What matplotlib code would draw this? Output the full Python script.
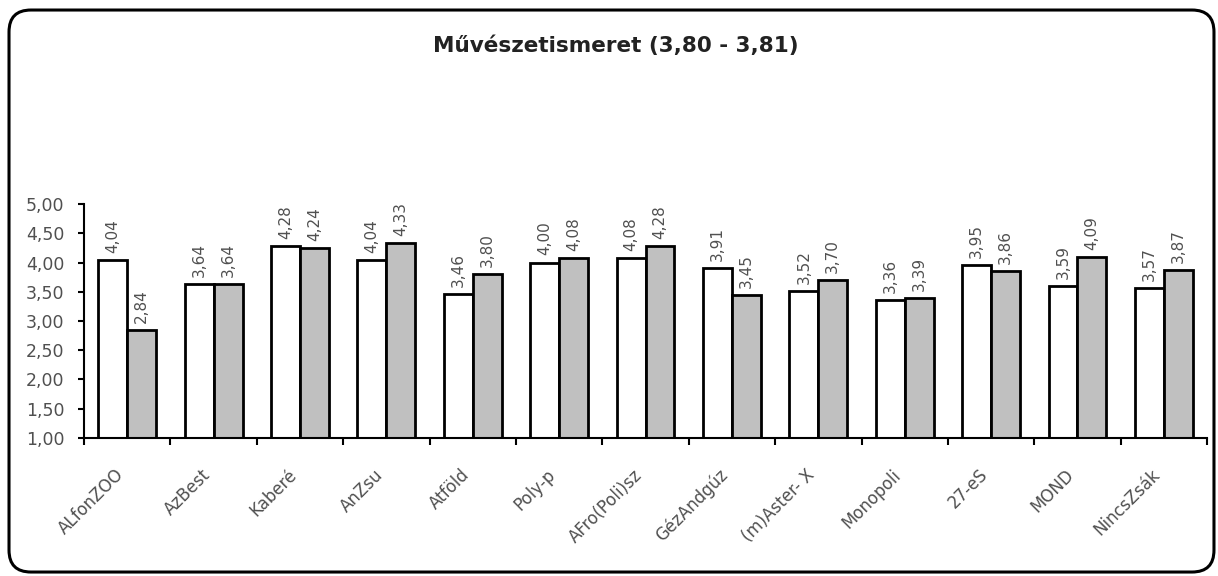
import numpy as np
import matplotlib.pyplot as plt
from matplotlib.patches import FancyBboxPatch

plt.rcParams['font.family'] = ['DejaVu Sans']

# Adatok
csapatok = ['ALfonZOO', 'AzBest', 'Kaberé', 'AnZsu', 'Atföld', 'Poly-p',
            'AFro(Poli)sz', 'GézAndgúz', '(m)Aster- X', 'Monopoli', '27-eS',
            'MOND', 'NincsZsák']
sor1 = [4.04, 3.64, 4.28, 4.04, 3.46, 4.00, 4.08, 3.91, 3.52, 3.36, 3.95, 3.59, 3.57]
sor2 = [2.84, 3.64, 4.24, 4.33, 3.80, 4.08, 4.28, 3.45, 3.70, 3.39, 3.86, 4.09, 3.87]
yticks = [1.0, 1.5, 2.0, 2.5, 3.0, 3.5, 4.0, 4.5, 5.0]

fig = plt.figure(figsize=(12.18, 5.76), dpi=100)
ax = fig.add_axes([0.069, 0.2396, 0.922, 0.4062])

# keret
keret = FancyBboxPatch((0.0074, 0.0069), 0.9893, 0.9757, transform=fig.transFigure,
                       boxstyle='round,pad=0,rounding_size=0.018',
                       fill=False, edgecolor='black', linewidth=2.2, mutation_aspect=2.11)
fig.patches.append(keret)

x = np.arange(len(csapatok))
w = 0.335
ax.bar(x - w / 2, np.array(sor1) - 1, w, bottom=1, color='white', edgecolor='black', linewidth=2)
ax.bar(x + w / 2, np.array(sor2) - 1, w, bottom=1, color='#c0c0c0', edgecolor='black', linewidth=2)

for xi, v in zip(x - w / 2, sor1):
    ax.text(xi, v + 0.12, f'{v:.2f}'.replace('.', ','), rotation=90, ha='center', va='bottom',
            fontsize=11, color='#505050', clip_on=False)
for xi, v in zip(x + w / 2, sor2):
    ax.text(xi, v + 0.12, f'{v:.2f}'.replace('.', ','), rotation=90, ha='center', va='bottom',
            fontsize=11, color='#505050', clip_on=False)

ax.set_xlim(-0.5, len(csapatok) - 0.5)
ax.set_ylim(1, 5)
ax.set_yticks(yticks)
ax.set_yticklabels([f'{t:.2f}'.replace('.', ',') for t in yticks], fontsize=12.5, color='#505050')

ax.set_xticks(np.arange(len(csapatok) + 1) - 0.5)
ax.set_xticklabels([])
ax.set_xticks(x, minor=True)
ax.set_xticklabels(csapatok, minor=True, rotation=45, ha='right', va='top',
                   fontsize=12, color='#505050')
ax.tick_params(axis='x', which='minor', length=0, pad=20)
ax.tick_params(axis='x', which='major', length=5, width=1.5, direction='out')
ax.tick_params(axis='y', length=4.5, width=1.5, direction='out', pad=9.5)

for s in ['top', 'right']:
    ax.spines[s].set_visible(False)
ax.spines['left'].set_linewidth(1.5)
ax.spines['bottom'].set_linewidth(1.5)

fig.text(0.506, 0.92, 'Művészetismeret (3,80 - 3,81)', ha='center', va='center',
         fontsize=15.5, fontweight='bold', color='#222222')

plt.savefig('out.png', dpi=100)
